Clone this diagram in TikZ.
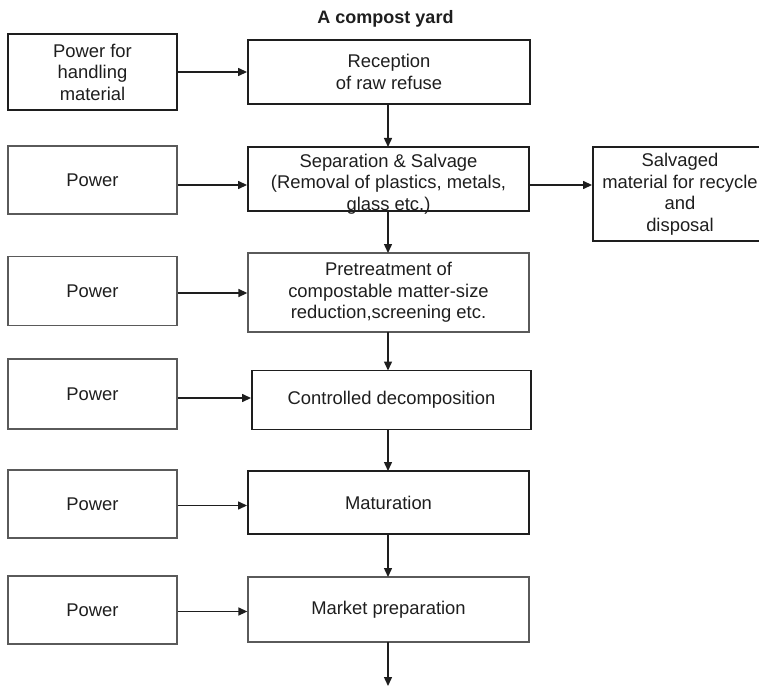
\documentclass[tikz,border=0pt]{standalone}
\usepackage{fontspec}
\setmainfont{Liberation Sans}
\usetikzlibrary{arrows.meta,calc}
\definecolor{ink}{HTML}{1E1E1E}
\definecolor{thinline}{HTML}{5A5A5A}
\begin{document}
\begin{tikzpicture}[x=1pt,y=-1pt,
  every node/.style={font=\fontsize{18.4}{21.5}\selectfont, text=ink, align=center, inner sep=0pt},
  heavybox/.style={draw=ink, line width=1.9pt, rectangle},
  lightbox/.style={draw=thinline, line width=1.3pt, rectangle},
  flow/.style={draw=ink, line width=1.4pt, -{Triangle[length=9pt,width=8pt]}}]
\useasboundingbox (0,0) rectangle (759,687);
\clip (0,0) rectangle (759,687);

% heading
\node[font=\fontsize{18}{22}\selectfont\bfseries] (title) at (385.5,19) {A compost yard};

% left column: power inputs
\node[heavybox, minimum width=169pt, minimum height=76pt] (pw1) at (92.5,72) {Power for\\handling\\material};
\node[lightbox, minimum width=169pt, minimum height=68pt] (pw2) at (92.5,180) {Power};
\node[lightbox, minimum width=169pt, minimum height=69pt] (pw3) at (92.5,291) {Power};
\node[lightbox, minimum width=169pt, minimum height=70pt] (pw4) at (92.5,394) {Power};
\node[lightbox, minimum width=169pt, minimum height=68pt] (pw5) at (92.5,504) {Power};
\node[lightbox, minimum width=169pt, minimum height=68pt] (pw6) at (92.5,610) {Power};

% main process chain
\node[heavybox, minimum width=282pt, minimum height=64pt] (rec) at (389,72) {Reception\\of raw refuse};
\node[heavybox, minimum width=281pt, minimum height=64pt] (sep) at (388.5,179) {};
\node (septxt) at (388.5,184) {Separation \& Salvage\\(Removal of plastics, metals,\\glass etc.)};
\node[lightbox, minimum width=281pt, minimum height=79pt] (pre) at (388.5,292.5) {Pretreatment of\\compostable matter-size\\reduction,screening etc.};
\node[heavybox, minimum width=279pt, minimum height=59pt] (dec) at (391.5,400) {Controlled decomposition};
\node[heavybox, minimum width=281pt, minimum height=63pt] (mat) at (388.5,502.5) {Maturation};
\node[lightbox, minimum width=281pt, minimum height=65pt] (mkt) at (388.5,609.5) {Market preparation};
\coordinate (out) at (388,686);

% side output, running past the right edge
\node[heavybox, minimum width=200pt, minimum height=94pt] (salv) at (693,194) {};
\node (salvtxt) at (680,194) {Salvaged\\material for recycle\\and\\disposal};

% power feeds
\draw[flow] (pw1.east) -- (pw1.east -| rec.west);
\draw[flow] ($(pw2.east)+(0,5)$) -- ($(pw2.east -| sep.west)+(0,5)$);
\draw[flow] ($(pw3.east)+(0,2)$) -- ($(pw3.east -| pre.west)+(0,2)$);
\draw[flow] ($(pw4.east)+(0,4)$) -- ($(pw4.east -| dec.west)+(0,4)$);
\draw[flow] ($(pw5.east)+(0,1.5)$) -- ($(pw5.east -| mat.west)+(0,1.5)$);
\draw[flow] ($(pw6.east)+(0,1.5)$) -- ($(pw6.east -| mkt.west)+(0,1.5)$);

% chain arrows
\draw[flow] (388,104) -- (388,147);
\draw[flow] (388,211) -- (388,253);
\draw[flow] (388,332) -- (388,370.5);
\draw[flow] (388,429.5) -- (388,471);
\draw[flow] (388,534) -- (388,577);
\draw[flow] (388,642) -- (out);

% salvage branch
\draw[flow] (sep.east |- 0,185) -- (salv.west |- 0,185);
\end{tikzpicture}
\end{document}
